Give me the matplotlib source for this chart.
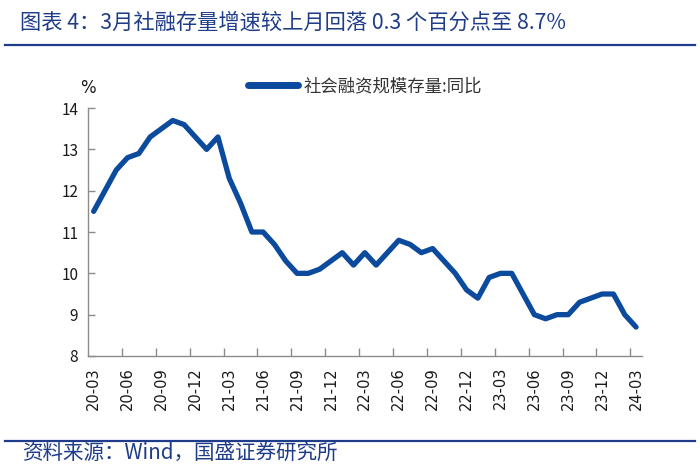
import numpy as np
import matplotlib
matplotlib.use("Agg")
import matplotlib.pyplot as plt
from matplotlib.lines import Line2D

plt.rcParams['font.family'] = ['Noto Sans CJK SC', 'DejaVu Sans']
plt.rcParams['axes.unicode_minus'] = False

# 社会融资规模存量:同比 (%), 2020-03 ~ 2024-03
tsf_2020 = [11.5, 12.0, 12.5, 12.8, 12.9, 13.3, 13.5, 13.7, 13.6, 13.3]
tsf_2021 = [13.0, 13.3, 12.3, 11.7, 11.0, 11.0, 10.7, 10.3, 10.0, 10.0, 10.1, 10.3]
tsf_2022 = [10.5, 10.2, 10.5, 10.2, 10.5, 10.8, 10.7, 10.5, 10.6, 10.3, 10.0, 9.6]
tsf_2023 = [9.4, 9.9, 10.0, 10.0, 9.5, 9.0, 8.9, 9.0, 9.0, 9.3, 9.4, 9.5]
tsf_2024 = [9.5, 9.0, 8.7]
tsf = tsf_2020 + tsf_2021 + tsf_2022 + tsf_2023 + tsf_2024

xlabels = ['20-03', '20-06', '20-09', '20-12', '21-03', '21-06', '21-09', '21-12',
           '22-03', '22-06', '22-09', '22-12', '23-03', '23-06', '23-09', '23-12', '24-03']
yticks = [8, 9, 10, 11, 12, 13, 14]

title = '图表 4：3月社融存量增速较上月回落 0.3 个百分点至 8.7%'
source = '资料来源：Wind，国盛证券研究所'
legend_label = '社会融资规模存量:同比'

blue = '#0B4A9C'
navy = '#1F3C88'
grey = '#8C8C8C'

fig = plt.figure(figsize=(7, 4.74), dpi=100)
ax = fig.add_axes([0.1257, 0.249, 0.791, 0.523])

x = np.arange(len(tsf))
ax.plot(x, tsf, color=blue, lw=3.8, solid_joinstyle='round', solid_capstyle='round')

ax.set_xlim(-0.5, len(tsf) - 0.5)
ax.set_ylim(8, 14)
ax.set_yticks(yticks)
ax.tick_params(axis='y', direction='in', length=5, width=1, color=grey, pad=7,
               labelsize=11, labelcolor='#1a1a1a')

ax.set_xticks(np.arange(0, len(tsf), 3))
ax.set_xticklabels(xlabels, rotation=90, fontsize=10.5, color='#1a1a1a',
                   family=['DejaVu Sans'])
ax.tick_params(axis='x', which='major', length=0, pad=8)
ax.set_xticks(np.arange(2.5, len(tsf) - 1, 3), minor=True)
ax.tick_params(axis='x', which='minor', direction='in', length=6, width=1, color=grey)

for s in ['top', 'right']:
    ax.spines[s].set_visible(False)
for s in ['left', 'bottom']:
    ax.spines[s].set_color(grey)
    ax.spines[s].set_linewidth(1)

ax.text(0, 1.08, '%', transform=ax.transAxes, ha='center', va='center',
        fontsize=12, family=['DejaVu Sans'], color='#1a1a1a')

handle = Line2D([], [], color=blue, lw=5, solid_capstyle='round')
ax.legend([handle], [legend_label], loc='center', bbox_to_anchor=(0.5, 1.088),
          frameon=False, fontsize=12.5, handlelength=2.9, handletextpad=0.3,
          labelcolor='#333333')

# title and source with rules
fig.text(0.028, 0.953, title, fontsize=15.3, color=navy, style='italic',
         ha='left', va='center')
fig.add_artist(Line2D([0.007, 0.993], [0.905, 0.905], color=navy, lw=1.6))
fig.add_artist(Line2D([0.007, 0.993], [0.069, 0.069], color=navy, lw=1.6))
fig.text(0.033, 0.044, source, fontsize=14.8, color=navy, style='italic',
         ha='left', va='center')

fig.savefig('out.png', dpi=100)
